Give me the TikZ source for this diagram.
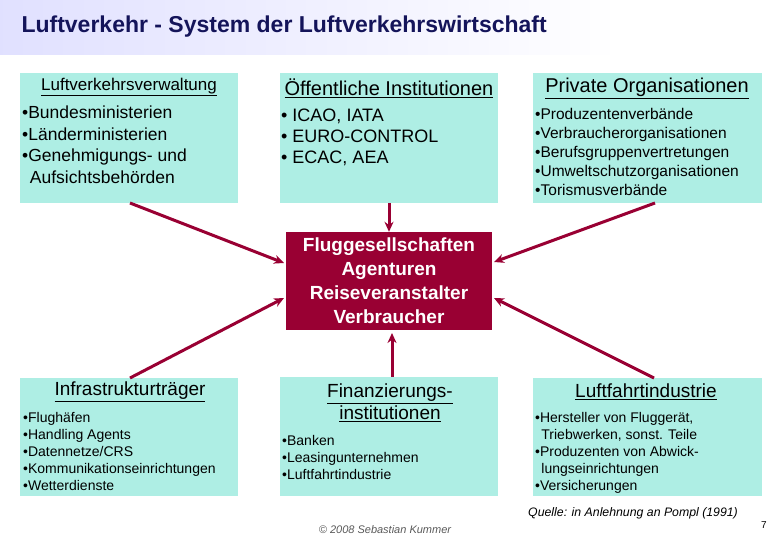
\documentclass[tikz,border=0pt]{standalone}
\usepackage{fontspec}
\setmainfont{Liberation Sans}
\usetikzlibrary{arrows.meta}
\definecolor{boxc}{HTML}{AEEEE4}
\definecolor{mar}{HTML}{990033}
\definecolor{navy}{HTML}{14145A}
\begin{document}
\begin{tikzpicture}[x=1pt,y=-1pt,
  box/.style={fill=boxc,draw=none},
  hd/.style={anchor=center,inner sep=0},
  it/.style={anchor=north west,align=left,inner sep=0},
  arr/.style={draw=mar,line width=3pt,-{Stealth[length=10pt,width=9pt]}}]
\useasboundingbox (0,0) rectangle (780,540);
\shade[left color=blue!12,right color=white] (0,0) rectangle (620,55);
\node[anchor=west,text=navy,font=\bfseries\fontsize{23}{26}\selectfont] (title) at (18,27) {Luftverkehr - System der Luftverkehrswirtschaft};
% boxes
\fill[box] (20,73) rectangle (238,203);
\fill[box] (280,73) rectangle (498,203);
\fill[box] (533,73) rectangle (762,203);
\fill[box] (20,378) rectangle (238,496);
\fill[box] (280,377) rectangle (498,496);
\fill[box] (533,378) rectangle (762,496);
\node[fill=mar,minimum width=206,minimum height=98,inner sep=0,text=white,align=center,font=\bfseries\fontsize{19}{24}\selectfont] (c) at (389,281) {Fluggesellschaften\\Agenturen\\Reiseveranstalter\\Verbraucher};
% headings
\node[hd,font=\fontsize{17}{19}\selectfont] (h1) at (129,87) {\underline{Luftverkehrsverwaltung}};
\node[hd,font=\fontsize{20}{22}\selectfont] (h2) at (389,88) {\underline{Öffentliche Institutionen}};
\node[hd,font=\fontsize{20}{22}\selectfont] (h3) at (647,88) {\underline{Private Organisationen}};
\node[hd,font=\fontsize{19}{21}\selectfont] (h4) at (130,392) {\underline{Infrastrukturträger}};
\node[hd,align=center,font=\fontsize{19}{22}\selectfont] (h5) at (390,403) {\underline{Finanzierungs-}\\\underline{institutionen}};
\node[hd,font=\fontsize{19}{21}\selectfont] (h6) at (646,392) {\underline{Luftfahrtindustrie}};
% items
\node[it,font=\fontsize{17.5}{21.5}\selectfont] (i1) at (22,106) {•Bundesministerien\\•Länderministerien\\•Genehmigungs- und\\\ \,Aufsichtsbehörden};
\node[it,font=\fontsize{18}{21}\selectfont] (i2) at (281,109) {• ICAO, IATA\\• EURO-CONTROL\\• ECAC, AEA};
\node[it,font=\fontsize{15.5}{19}\selectfont] (i3) at (535,108) {•Produzentenverbände\\•Verbraucherorganisationen\\•Berufsgruppenvertretungen\\•Umweltschutzorganisationen\\•Torismusverbände};
\node[it,font=\fontsize{14}{17}\selectfont] (i4) at (23,412) {•Flughäfen\\•Handling Agents\\•Datennetze/CRS\\•Kommunikationseinrichtungen\\•Wetterdienste};
\node[it,font=\fontsize{14}{17}\selectfont] (i5) at (282,435) {•Banken\\•Leasingunternehmen\\•Luftfahrtindustrie};
\node[it,font=\fontsize{14}{17}\selectfont] (i6) at (535,412) {•Hersteller von Fluggerät,\\\ \,Triebwerken, sonst. Teile\\•Produzenten von Abwick-\\\ \,lungseinrichtungen\\•Versicherungen};
% arrows
\coordinate (a1) at (130,203); \coordinate (a2) at (389,203); \coordinate (a3) at (655,203);
\coordinate (b1) at (130,378); \coordinate (b2) at (392,377); \coordinate (b3) at (654,378);
\draw[arr] (a1) -- (284,263);
\draw[arr] (a2) -- (c.north);
\draw[arr] (a3) -- (494,262);
\draw[arr] (b1) -- (284,298);
\draw[arr] (b2) -- (392,333);
\draw[arr] (b3) -- (494,298);
\node[anchor=west,inner sep=0,font=\itshape\fontsize{12.3}{14}\selectfont] (q) at (528,513) {Quelle: in Anlehnung an Pompl (1991)};
\node[anchor=center,inner sep=0,text=gray!70!black,font=\itshape\fontsize{11}{12}\selectfont] (cp) at (385,530) {© 2008 Sebastian Kummer};
\node[anchor=center,inner sep=0,font=\fontsize{10}{12}\selectfont] (pg) at (764,525) {7};
\end{tikzpicture}
\end{document}
